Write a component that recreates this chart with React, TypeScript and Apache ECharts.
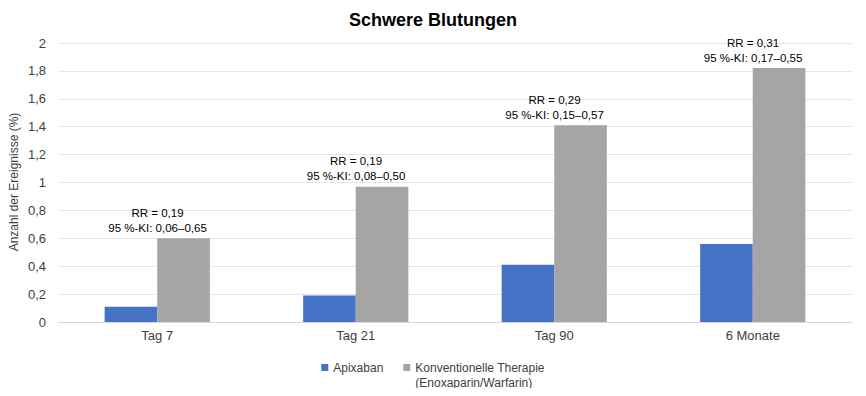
import React, { useEffect, useRef } from "react";
import * as echarts from "echarts";

const categories = ["Tag 7", "Tag 21", "Tag 90", "6 Monate"];
const apixaban = [0.11, 0.19, 0.41, 0.56];
const konventionell = [0.6, 0.97, 1.41, 1.82];
const rrLabels = ["RR = 0,19", "RR = 0,19", "RR = 0,29", "RR = 0,31"];
const kiLabels = [
  "95 %-KI: 0,06–0,65",
  "95 %-KI: 0,08–0,50",
  "95 %-KI: 0,15–0,57",
  "95 %-KI: 0,17–0,55",
];
const yTicks = ["0", "0,2", "0,4", "0,6", "0,8", "1", "1,2", "1,4", "1,6", "1,8", "2"];
const yAxisTitle = "Anzahl der Ereignisse (%)";
const seriesNames = ["Apixaban", "Konventionelle Therapie\n(Enoxaparin/Warfarin)"];

const FONT = "Liberation Sans, Arial, sans-serif";
const TOP_SQUARE = "path://M0,0L7,0L7,7L0,7Z M0,22L7,22";

export default function App() {
  const ref = useRef<HTMLDivElement>(null);
  useEffect(() => {
    if (!ref.current) return;
    const chart = echarts.init(ref.current, null, { renderer: "svg" });
    chart.setOption({
      animation: false,
      textStyle: { fontFamily: FONT },
      title: {
        text: "Schwere Blutungen",
        left: "center",
        top: 6,
        textStyle: { fontFamily: FONT, fontSize: 18, fontWeight: "bold", color: "#000" },
      },
      graphic: [
        {
          type: "text",
          x: 14,
          y: 182,
          rotation: Math.PI / 2,
          style: {
            text: yAxisTitle,
            fill: "#404040",
            font: `12px ${FONT}`,
            align: "center",
            verticalAlign: "middle",
          },
        },
      ],
      grid: { left: 58, right: 14, top: 43, bottom: 74, outerBoundsMode: "none" },
      legend: {
        top: 355,
        left: "center",
        itemWidth: 7,
        itemHeight: 22,
        itemGap: 20,
        icon: TOP_SQUARE,
        formatter: (name: string) => (name === seriesNames[0] ? name + "\n " : name),
        textStyle: { fontFamily: FONT, fontSize: 12, color: "#404040", lineHeight: 15 },
        data: seriesNames,
      },
      xAxis: {
        type: "category",
        data: categories,
        axisTick: { show: false },
        axisLine: { lineStyle: { color: "#d9d9d9" } },
        axisLabel: { color: "#404040", fontSize: 13, margin: 7, fontFamily: FONT },
      },
      yAxis: {
        type: "value",
        min: 0,
        max: 2,
        interval: 0.2,
        axisLine: { show: false },
        axisTick: { show: false },
        splitLine: { lineStyle: { color: "#e6e6e6" } },
        axisLabel: {
          color: "#404040",
          fontSize: 13,
          margin: 12,
          fontFamily: FONT,
          formatter: (v: number) => yTicks[Math.round(v * 5)] ?? "",
        },
      },
      series: [
        {
          name: seriesNames[0],
          type: "bar",
          data: apixaban,
          itemStyle: { color: "#4472C4" },
          barGap: "0%",
          barCategoryGap: "47%",
        },
        {
          name: seriesNames[1],
          type: "bar",
          data: konventionell,
          itemStyle: { color: "#A5A5A5" },
          barGap: "0%",
          barCategoryGap: "47%",
          label: {
            show: true,
            position: "top",
            distance: 3,
            offset: [-26, 0],
            color: "#000",
            fontSize: 11.5,
            lineHeight: 15,
            fontFamily: FONT,
            formatter: (p: any) => rrLabels[p.dataIndex] + "\n" + kiLabels[p.dataIndex],
          },
        },
      ],
    });
    return () => chart.dispose();
  }, []);
  return <div ref={ref} style={{ width: 866, height: 396, margin: -8 }} />;
}
